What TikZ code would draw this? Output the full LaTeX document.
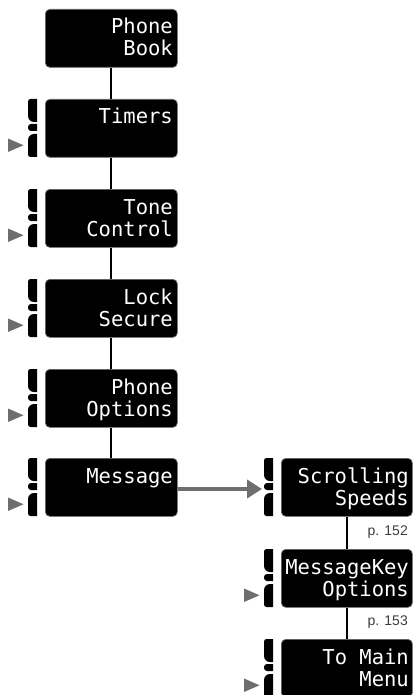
\documentclass[tikz,border=0pt]{standalone}
\usepackage{fontspec}
\usetikzlibrary{arrows.meta,calc}
\newfontfamily\lcdfont{DejaVu Sans Mono}
\newfontfamily\pagefont{Liberation Sans}
\definecolor{markgray}{RGB}{110,110,110}
\definecolor{pagegray}{RGB}{60,60,60}
\tikzset{
  lcdbox/.style={fill=black, draw=black!60, line width=0.7pt, rounded corners=4.5pt,
    minimum width=132pt, minimum height=58pt, inner sep=0pt, anchor=north west},
  lcdboxr/.style={lcdbox, minimum width=131pt},
  lcdtext/.style={text=white, inner sep=0pt, align=right, anchor=base east,
    font={\lcdfont\fontsize{20.5}{22}\selectfont}},
  conn/.style={draw=black, line width=1.8pt},
  arr/.style={draw=markgray, line width=4pt, -{Triangle[length=15pt,width=18pt]}},
  pagelabel/.style={text=pagegray, inner sep=0pt, anchor=base east,
    font={\pagefont\fontsize{14}{16}\selectfont}},
  tabpiece/.style={fill=black},
  marker/.style={fill=markgray}
}
% #1 = box left x, #2 = box top y, #3 = 1 to draw the triangle marker
\newcommand{\sidetabs}[3]{%
  \fill[tabpiece] ({#1-8},{#2}) [rounded corners=2.5pt] -- ({#1-17},{#2})
     [rounded corners=6pt] -- ({#1-17},{#2+23}) [sharp corners] -- ({#1-8},{#2+23}) -- cycle;
  \fill[tabpiece] ({#1-8},{#2+25}) [rounded corners=3pt] -- ({#1-17},{#2+25})
     -- ({#1-17},{#2+32}) [sharp corners] -- ({#1-8},{#2+32}) -- cycle;
  \fill[tabpiece] ({#1-8},{#2+35}) [rounded corners=6pt] -- ({#1-17},{#2+35})
     [rounded corners=2.5pt] -- ({#1-17},{#2+58}) [sharp corners] -- ({#1-8},{#2+58}) -- cycle;
  \ifnum#3=1
    \fill[marker] ({#1-37},{#2+39.5}) -- ({#1-37},{#2+53}) -- ({#1-21.5},{#2+46.25}) -- cycle;
  \fi
}
\begin{document}
\begin{tikzpicture}[x=1pt,y=-1pt]
\useasboundingbox (0,0) rectangle (415,695);

% left column
\node[lcdbox] (b1) at (45,9) {};
\node[lcdbox] (b2) at (45,99) {};
\node[lcdbox] (b3) at (45,189) {};
\node[lcdbox] (b4) at (45,279) {};
\node[lcdbox] (b5) at (45,369) {};
\node[lcdbox] (b6) at (45,458) {};
% right column
\node[lcdboxr] (b7) at (281,458) {};
\node[lcdboxr] (b8) at (281,549) {};
\node[lcdboxr] (b9) at (281,639) {};

\sidetabs{45}{99}{1}
\sidetabs{45}{189}{1}
\sidetabs{45}{279}{1}
\sidetabs{45}{369}{1}
\sidetabs{45}{458}{1}
\sidetabs{281}{458}{0}
\sidetabs{281}{549}{1}
\sidetabs{281}{639}{1}

% texts (anchor = baseline of the last line)
\node[lcdtext] (t1) at (173,56) {Phone\\Book};
\node[lcdtext] (t2) at (173,124) {Timers};
\node[lcdtext] (t3) at (173,236) {Tone\\Control};
\node[lcdtext] (t4) at (173,326) {Lock\\Secure};
\node[lcdtext] (t5) at (173,416) {Phone\\Options};
\node[lcdtext] (t6) at (173,483) {Message};
\node[lcdtext] (t7) at (409,505) {Scrolling\\Speeds};
\node[lcdtext] (t8) at (409,596) {MessageKey\\Options};
\node[lcdtext] (t9) at (409,686) {To Main\\Menu};

% connectors
\draw[conn] (b1) -- (b2);
\draw[conn] (b2) -- (b3);
\draw[conn] (b3) -- (b4);
\draw[conn] (b4) -- (b5);
\draw[conn] (b5) -- (b6);
\draw[conn] (b7) -- (b8);
\draw[conn] (b8) -- (b9);

\coordinate (tip) at (262,489);
\draw[arr] (b6.east |- tip) -- (tip);

% page labels
\node[pagelabel] (p1) at (408,535) {p. 152};
\node[pagelabel] (p2) at (408,625) {p. 153};
\end{tikzpicture}
\end{document}
